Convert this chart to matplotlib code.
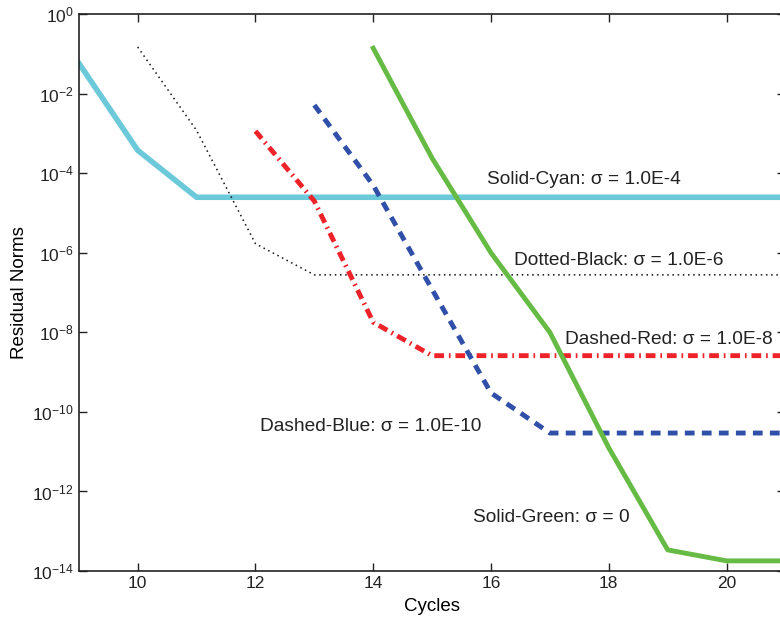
import matplotlib
matplotlib.use("Agg")
import matplotlib.pyplot as plt
from matplotlib.ticker import LogLocator, NullLocator

plt.rcParams['font.family'] = ['Liberation Sans', 'DejaVu Sans']

# residual norms, one series per sigma
cyc_cyan = [9, 10, 11, 12, 13, 14, 15, 16, 17, 18, 19, 20, 21]
res_cyan = [5.9e-2, 3.8e-4, 2.5e-5, 2.5e-5, 2.5e-5, 2.5e-5, 2.5e-5,
            2.5e-5, 2.5e-5, 2.5e-5, 2.5e-5, 2.5e-5, 2.5e-5]

cyc_black = [10, 11, 12, 13, 14, 15, 16, 17, 18, 19, 20, 21]
res_black = [1.5e-1, 1.2e-3, 1.7e-6, 2.8e-7, 2.8e-7, 2.8e-7, 2.8e-7,
             2.8e-7, 2.8e-7, 2.8e-7, 2.8e-7, 2.8e-7]

cyc_red = [12, 13, 14, 15, 16, 17, 18, 19, 20, 21]
res_red = [1.15e-3, 2.0e-5, 1.8e-8, 2.6e-9, 2.6e-9, 2.6e-9, 2.6e-9,
           2.6e-9, 2.6e-9, 2.6e-9]

cyc_blue = [13, 14, 15, 16, 17, 18, 19, 20, 21]
res_blue = [5.2e-3, 5.0e-5, 1.2e-7, 3.0e-10, 2.95e-11, 2.95e-11,
            2.95e-11, 2.95e-11, 2.95e-11]

cyc_green = [14, 15, 16, 17, 18, 19, 20, 21]
res_green = [1.4e-1, 2.4e-4, 1.0e-6, 1.0e-8, 1.25e-11, 3.4e-14, 1.8e-14, 1.8e-14]

labels = ["Solid-Cyan: σ = 1.0E-4", "Dotted-Black: σ = 1.0E-6",
          "Dashed-Red: σ = 1.0E-8", "Dashed-Blue: σ = 1.0E-10",
          "Solid-Green: σ = 0"]
label_x = [17.58, 18.17, 19.02, 13.95, 17.03]
label_y = [6.8e-5, 6.6e-7, 6.5e-9, 4.2e-11, 2.2e-13]

fig = plt.figure(figsize=(7.8, 6.19), dpi=100)
ax = fig.add_axes([0.101, 0.0775, 0.906, 0.8995])

ax.plot(cyc_cyan, res_cyan, color='#6cc9da', lw=4, solid_joinstyle='miter')
ax.plot(cyc_black, res_black, color='#111111', lw=1.1, linestyle=(0, (1.0, 2.4)))
ax.plot(cyc_red, res_red, color='#ee2229', lw=3.5, linestyle=(0, (2.0, 1.0, 0.35, 1.0)))
ax.plot(cyc_blue, res_blue, color='#2f4fa8', lw=3.5, linestyle=(0, (2.0, 1.5)))
ax.plot(cyc_green, res_green, color='#66bb44', lw=3.5)

for t, x, y in zip(labels, label_x, label_y):
    ax.text(x, y, t, fontsize=13.8, ha='center', va='center', color='#222222')

ax.set_yscale('log')
ax.set_xlim(9, 21)
ax.set_ylim(1e-14, 1e0)
ax.set_xticks([10, 12, 14, 16, 18, 20])
ax.yaxis.set_major_locator(LogLocator(base=100.0))
ax.yaxis.set_minor_locator(NullLocator())
ax.tick_params(direction='in', top=True, right=True, length=6, width=1,
               labelsize=12.5, colors='#222222')
for s in ax.spines.values():
    s.set_linewidth(1.2)
    s.set_color('#222222')

ax.set_xlabel("Cycles", fontsize=13.5, labelpad=5)
ax.set_ylabel("Residual Norms", fontsize=13.5, labelpad=3)

fig.savefig("out.png", dpi=100)
